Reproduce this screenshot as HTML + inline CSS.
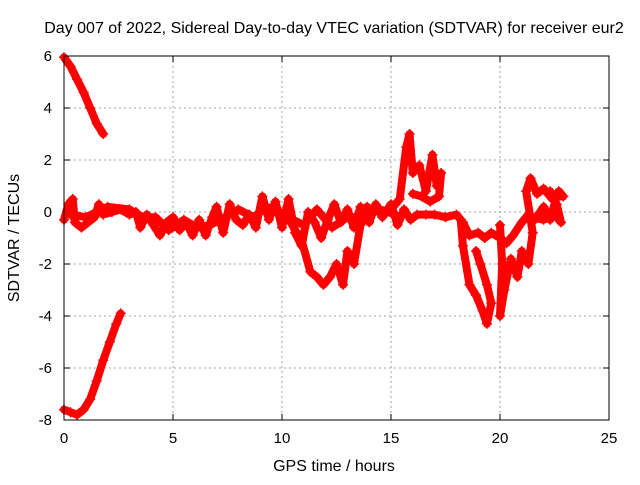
<!DOCTYPE html>
<html><head><meta charset="utf-8"><style>
body{margin:0;background:#fff}
svg text{font-family:"Liberation Sans",sans-serif;font-size:15px;fill:#000}
svg text.big{font-size:16px}
</style></head><body>
<svg id="chart" width="640" height="480">
<text class="big" x="334" y="33" text-anchor="middle">Day 007 of 2022, Sidereal Day-to-day VTEC variation (SDTVAR) for receiver eur2</text>
<text class="big" x="334" y="471" text-anchor="middle">GPS time / hours</text>
<text class="big" transform="translate(19,238) rotate(-90)" text-anchor="middle">SDTVAR / TECUs</text>
<g id="grid"></g><g id="marks"></g>
<rect x="64" y="56" width="545" height="364" fill="none" stroke="#000" stroke-width="1"/>
</svg>
<script>
const xTicks=[0,5,10,15,20,25];
const yTicks=[-8,-6,-4,-2,0,2,4,6];
const traceA=[[0,5.95],[0.3,5.6],[0.6,5.1],[0.9,4.6],[1.2,4.0],[1.5,3.4],[1.8,3.0]];
const traceB=[[0,-7.6],[0.3,-7.7],[0.6,-7.8],[0.9,-7.6],[1.2,-7.2],[1.5,-6.5],[1.8,-5.7],[2.1,-5.0],[2.4,-4.3],[2.6,-3.9]];
const traceC=[[0,-0.3],[0.2,0.3],[0.4,0.5],[0.5,-0.4],[0.8,-0.6],[1.1,-0.4],[1.4,-0.2],[1.6,0.3],[1.8,-0.1],[2.2,0.0],[2.6,0.1],[3.0,-0.1],[3.3,0.0],[3.5,-0.6],[3.8,-0.1],[4.1,-0.5],[4.4,-0.9],[4.7,-0.4],[5.0,-0.2],[5.3,-0.7],[5.6,-0.4],[5.9,-0.9],[6.2,-0.3],[6.5,-0.9],[6.8,-0.2],[7.0,0.2],[7.3,-0.8],[7.6,0.3],[7.9,-0.3],[8.2,-0.5],[8.5,-0.1],[8.8,-0.6],[9.1,0.6],[9.4,-0.3],[9.7,0.4],[10.0,-0.6],[10.3,0.5],[10.6,-0.8],[10.9,-1.3],[11.2,0.0],[11.5,-0.4],[11.8,-1.0],[12.1,-0.3],[12.4,0.3],[12.7,-0.4],[13.0,0.1],[13.3,-0.6],[13.6,0.2],[14.0,-0.4],[14.3,0.3],[14.6,-0.2],[15.0,0.3],[15.3,-0.5],[15.6,0.1],[15.9,-0.3],[16.2,-0.1],[16.6,-0.1],[17.0,-0.1],[17.5,-0.2],[18.0,-0.1],[18.3,-0.4],[18.6,-0.9],[19.0,-0.8],[19.3,-1.0],[19.6,-0.8],[20.0,-1.0],[20.3,-1.2],[20.6,-0.9],[21.0,-0.4],[21.3,-0.1],[21.6,-0.3],[22.0,0.2],[22.3,-0.3],[22.6,0.6],[22.9,0.6]];
const traceC2=[[0.3,-0.1],[1.0,-0.2],[2.0,0.2],[3.0,0.1],[3.6,-0.2],[4.2,-0.2],[4.8,-0.7],[5.5,-0.3],[6.1,-0.6],[6.7,-0.5],[7.4,-0.2],[8.0,0.1],[8.7,-0.2],[9.3,0.2],[9.9,0.0],[10.5,-0.3],[11.0,-0.5],[11.6,0.1],[12.3,-0.6],[13.0,-0.2],[13.7,-0.2],[14.5,0.1],[15.2,-0.1]];
const traceD=[[10.4,-0.4],[10.9,-1.1],[11.3,-2.3],[11.6,-2.5],[11.9,-2.8],[12.2,-2.5],[12.5,-2.0],[12.8,-2.8],[13.0,-1.5],[13.3,-2.0],[13.6,-0.5],[13.9,0.2]];
const traceE=[[15.1,0.2],[15.4,0.5],[15.7,2.5],[15.85,3.0],[16.0,1.5],[16.3,1.8],[16.6,0.8],[16.9,2.2],[17.1,1.0],[17.3,1.5],[17.2,0.6],[16.8,0.4],[16.4,0.6],[16.0,0.7]];
const traceF=[[18.2,-0.3],[18.3,-1.3],[18.6,-2.8],[18.9,-3.2],[19.2,-3.8],[19.4,-4.3],[19.6,-3.5],[19.4,-2.8],[19.1,-2.0],[18.9,-1.5]];
const traceG=[[20.0,-0.5],[20.1,-2.0],[20.0,-4.0],[20.2,-3.0],[20.5,-1.8],[20.8,-2.5],[21.0,-1.5],[21.3,-2.0],[21.5,-0.8],[21.2,0.8],[21.4,1.3],[21.7,0.7],[22.0,0.9],[22.4,0.5],[22.7,0.8],[22.9,0.6]];
const traceH=[[21.5,-0.2],[22.0,-0.3],[22.5,-0.1],[22.8,-0.4],[22.6,0.3],[22.3,0.8]];
const traces=[traceA,traceB,traceC,traceC2,traceD,traceE,traceF,traceG,traceH];
const NS="http://www.w3.org/2000/svg";
const X0=64,X1=609,Y0=420,Y1=56;
function sx(v){return X0+(v-0)/(25-0)*(X1-X0);}
function sy(v){return Y0-(v+8)/14*(Y0-Y1);}
const grid=document.getElementById('grid'),marks=document.getElementById('marks');
function mk(tag,a,p){const e=document.createElementNS(NS,tag);for(const k in a)e.setAttribute(k,a[k]);p.appendChild(e);return e;}
xTicks.forEach(t=>{
  const x=sx(t);
  if(t>0&&t<25){const l=mk('line',{x1:x,y1:Y1,x2:x,y2:Y0,stroke:'#a0a0a0','stroke-dasharray':'2,3'},grid);
  
  }
  mk('line',{x1:x,y1:Y0,x2:x,y2:Y0-6,stroke:'#000'},grid);
  mk('line',{x1:x,y1:Y1,x2:x,y2:Y1+6,stroke:'#000'},grid);
  const tx=mk('text',{x:x,y:443,'text-anchor':'middle'},grid);tx.textContent=t;
  
  
});
yTicks.forEach(t=>{
  const y=sy(t);
  if(t>-8&&t<6){const l=mk('line',{x1:X0,y1:y,x2:X1,y2:y,stroke:'#a0a0a0','stroke-dasharray':'2,3'},grid);
  
  }
  mk('line',{x1:X0,y1:y,x2:X0+6,y2:y,stroke:'#000'},grid);
  mk('line',{x1:X1,y1:y,x2:X1-6,y2:y,stroke:'#000'},grid);
  const tx=mk('text',{x:52,y:y+5,'text-anchor':'end'},grid);tx.textContent=t;
  
  
});
traces.forEach((tr,i)=>{
  const pl=mk('polyline',{points:tr.map(p=>sx(p[0])+','+sy(p[1])).join(' '),fill:'none',stroke:'#ff0000','stroke-width':8,'stroke-linejoin':'round','stroke-linecap':'round'},marks);
  
  
  tr.forEach(p=>{
    const x=sx(p[0]),y=sy(p[1]);
    const m=mk('path',{d:`M${x-5},${y}H${x+5}M${x},${y-5}V${y+5}`,stroke:'#ff0000','stroke-width':1.5},marks);
    
    
  });
});
</script>
</body></html>
